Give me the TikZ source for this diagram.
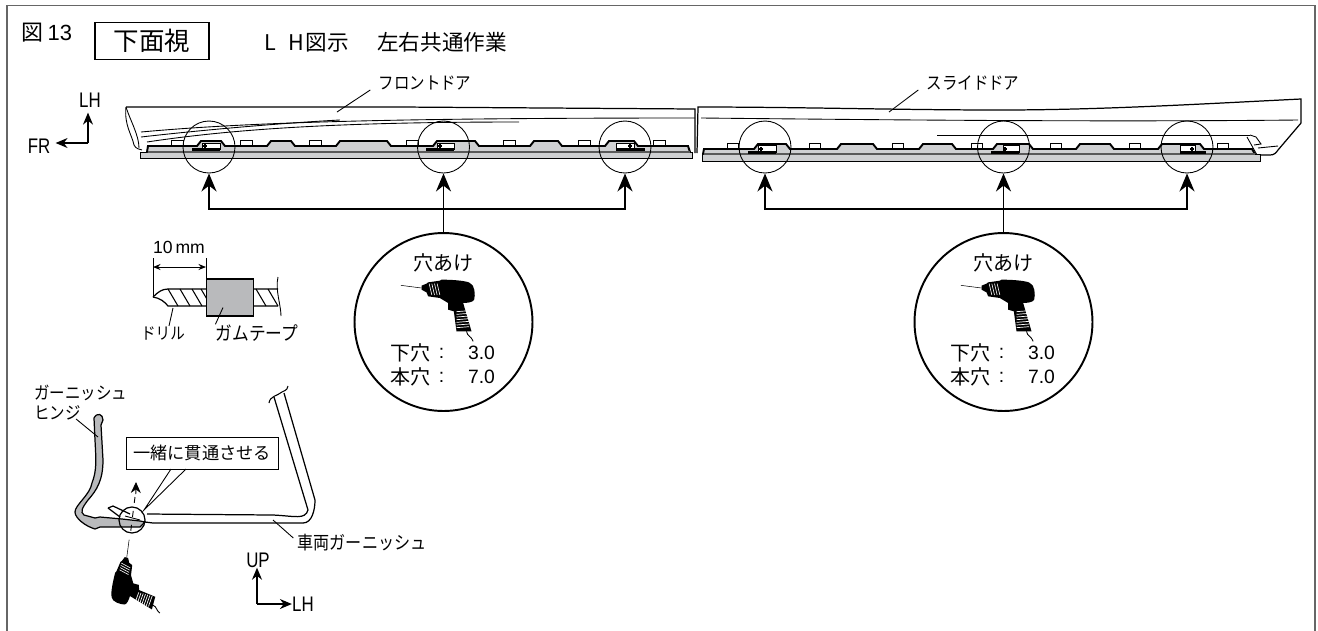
\documentclass[tikz,border=0pt]{standalone}
\usepackage{fontspec}
\setmainfont{Liberation Sans}
\newfontfamily\jp{Noto Sans CJK JP}
\newfontfamily\jpk[FakeStretch=0.88]{Noto Sans CJK JP}
\newfontfamily\narrow[FakeStretch=0.8]{Liberation Sans}
\usetikzlibrary{arrows.meta}
\definecolor{stripgray}{HTML}{CFD0D2}
\definecolor{tapegray}{HTML}{B9BABC}
\definecolor{framegray}{HTML}{666666}
\tikzset{
  lbl/.style={inner sep=0pt,font=\jpk\fontsize{10pt}{11pt}\selectfont},
  lblbig/.style={inner sep=0pt,font=\jp\fontsize{11.4pt}{13pt}\selectfont},
  lbllat/.style={inner sep=0pt,font=\fontsize{11pt}{13pt}\selectfont},
  lblaxis/.style={inner sep=0pt,font=\narrow\fontsize{12pt}{14pt}\selectfont},
  lens/.style={circle,draw,line width=0.5pt,minimum size=1.04cm,inner sep=0pt},
  bigcirc/.style={circle,draw,fill=white,line width=1.1pt,minimum size=3.56cm,inner sep=0pt},
  bigarrow/.style={line width=1.1pt,-{Stealth[length=0.36cm,width=0.3cm]}},
  bothbig/.style={line width=1.1pt,{Stealth[length=0.36cm,width=0.3cm]}-{Stealth[length=0.36cm,width=0.3cm]}},
  axisarrow/.style={line width=0.7pt,-{Stealth[length=0.24cm,width=0.2cm]}},
  profile/.style={fill=stripgray,draw,line width=1.1pt},
  strip/.style={fill=stripgray,draw,line width=0.4pt},
  thin line/.style={line width=0.5pt},
  tab/.style={fill=white,draw,line width=0.4pt},
  pics/drill/.style={code={
    \draw[line width=0.3pt] (-137,-53) -- (-75,-45);
    \fill (-75,-52) -- (-60,-58) -- (-55,-62) -- (-20,-67) -- (-15,-70) .. controls (30,-70) and (65,-65) .. (70,-60)
      .. controls (85,-55) and (87,-25) .. (83,-10) .. controls (80,-2) and (60,0) .. (50,0)
      -- (75,85) -- (30,85) -- (22,25) -- (5,20) -- (5,0) -- (-20,-15) -- (-55,-20) -- (-60,-32) -- (-75,-40) -- cycle;
    \foreach \x in {-52,-44,-36,-28} \draw[white,line width=0.35pt] (\x,-58) -- (\x+8,-24);
    \foreach \y in {26,34,42,50,58,66,74} \draw[white,line width=0.4pt] (30,\y) -- (68,\y-3);
    \draw[line width=0.5pt] (60,85) .. controls (62,100) and (75,100) .. (80,115);
  }}
}
\begin{document}
\begin{tikzpicture}[x=0.02cm,y=-0.02cm]
  \useasboundingbox (0,0) rectangle (1318,630);
  \draw[line width=0.8pt,framegray] (7,5.5) rectangle (1315,640);

  % heading
  \node at (47,33) [inner sep=0pt,font=\jp\fontsize{12.5pt}{14pt}\selectfont] (fig) {図\,\fontspec{Liberation Sans}13};
  \node at (152,41) [draw,line width=1pt,minimum width=2.28cm,minimum height=0.74cm,inner sep=0pt,font=\jp\fontsize{14.5pt}{16pt}\selectfont] (view) {下面視};
  \node at (264,42) [anchor=west,inner sep=0pt,font=\jp\fontsize{12.3pt}{14pt}\selectfont] (note) {L\hspace{7pt}H\hspace{1pt}図示\hspace{16pt}左右共通作業};

  % LH / FR axes
  \coordinate (ax1) at (88,143);
  \node at (90,100) [lblaxis] (lh1) {LH};
  \node at (39,146) [lblaxis] (fr1) {FR};
  \draw[axisarrow,shorten >=0.1cm] (ax1) -- (ax1 |- lh1.south);
  \draw[axisarrow,shorten >=0.1cm] (ax1) -- (ax1 -| fr1.east);

  % front door
  \draw[thin line] (126,107) .. controls (124,125) and (132,135) .. (134,145) .. controls (136,149) and (139,149) .. (142,150);
  \draw[line width=0.7pt] (126,107) -- (400,107) -- (695,109) -- (695,153);
  \draw[thin line] (141,132) .. controls (250,122) and (400,118) .. (695,118);
  \draw[thin line] (141,137) .. controls (220,128) and (300,122) .. (340,120);
  \draw[thin line] (147,142) .. controls (240,128) and (350,122) .. (519,122);
  \draw[thin line] (126,107) .. controls (130,120) and (139,135) .. (139,148);
  \node at (425,83) [lbl] (door1) {フロントドア};
  \coordinate (door1in) at (337,112);
  \draw[thin line] (door1.west) ++(-8,7) -- (door1in);
  \foreach \x in {171,240,309,406,503,578,653} \draw[tab] (\x,140) rectangle ++(12,5);
  \draw[strip] (140,152) rectangle (692,158);
  \draw[profile] (147,152) -- (148,146)
    \foreach \a/\b in {199/223,269/293,338/389,435/477,532/560,607/636} { -- (\a-2,146) -- (\a+2,141) -- (\b-2,141) -- (\b+2,146) }
    -- (688,146) -- (690,152);
  \draw[line width=1pt,gray!70!black] (148,152) -- (690,152);
  \foreach \l/\r/\a/\b/\p in {202/220/192/220/205,437/454/426/454/440,616/634/616/645/630} {
    \fill[white] (\l,143) rectangle (\r,149);
    \draw[line width=0.4pt] (\l,143) rectangle (\r,149);
    \draw[line width=1.3pt] (\a,149.5) -- (\b,149.5);
    \draw[line width=0.6pt] (\p-2,146) -- (\p+2,146) (\p,144) -- (\p,148);
  }
  \node at (209,147) [lens] (c1) {};
  \node at (443.5,147) [lens] (c2) {};
  \node at (625,147) [lens] (c3) {};

  % slide door
  \draw[line width=0.7pt] (1255,155) -- (1270,155) .. controls (1274,155) and (1276,153) .. (1278,150) -- (1301,123) -- (1301,99)
    .. controls (1200,104) and (1100,110) .. (1000,110) .. controls (900,110) and (800,107) .. (698,107) -- (697,153);
  \draw[thin line] (701,118) .. controls (900,120) and (1100,122) .. (1298,120);
  \draw[thin line] (937,135) -- (1250,135);
  \draw[thin line] (1247,137) -- (1257,155);
  \draw[thin line] (1250,135) -- (1256,137) -- (1261,144) -- (1254,145);
  \draw[thin line] (1258,148) -- (1278,146);
  \node at (973,83) [lbl] (door2) {スライドドア};
  \coordinate (door2in) at (889,112);
  \draw[thin line] (door2.west) ++(-8,7) -- (door2in);
  \foreach \x in {727,809,892,971,1050,1129,1217} \draw[tab] (\x,143) rectangle ++(11,5);
  \draw[strip] (702,154) rectangle (1260,161);
  \draw[profile] (703,154) -- (704,149)
    \foreach \a/\b in {756/788,839/875,921/954,995/1031,1078/1112,1160/1202} { -- (\a-2,149) -- (\a+2,144) -- (\b-2,144) -- (\b+2,149) }
    -- (1252,149) -- (1255,154);
  \draw[line width=1pt,gray!70!black] (704,154) -- (1255,154);
  \foreach \l/\r/\a/\b/\p in {758/776/748/776/761,1003/1019/991/1019/1005,1180/1195/1180/1206/1192} {
    \fill[white] (\l,145) rectangle (\r,152);
    \draw[line width=0.4pt] (\l,145) rectangle (\r,152);
    \draw[line width=1.3pt] (\a,152.5) -- (\b,152.5);
    \draw[line width=0.6pt] (\p-2,149) -- (\p+2,149) (\p,147) -- (\p,151);
  }
  \node at (765,147) [lens] (c4) {};
  \node at (1003.5,147) [lens] (c5) {};
  \node at (1187,147) [lens] (c6) {};

  % drilling circles
  \node at (443.5,322) [bigcirc] (big1) {};
  \node at (1003.5,322) [bigcirc] (big2) {};
  \draw[bigarrow] (big1.north) -- (c2.south);
  \draw[bigarrow] (big2.north) -- (c5.south);
  \draw[bothbig] (c1.south) -- ++(0,36) -| (c3.south);
  \draw[bothbig] (c4.south) -- ++(0,36) -| (c6.south);
  \foreach \n/\x in {1/443.5,2/1003.5} {
    \node at (\x,263) [lblbig] (title\n) {穴あけ};
    \pic at (\x+3,303) [scale=1/3] {drill};
    \node at (\x-33,353) [lblbig] (pilot\n) {下穴};
    \node at (\x-2,353) [lbllat] (pilotc\n) {:};
    \node at (\x+38,353) [lbllat] (pilotv\n) {3.0};
    \node at (\x-33,377) [lblbig] (main\n) {本穴};
    \node at (\x-2,377) [lbllat] (mainc\n) {:};
    \node at (\x+38,377) [lbllat] (mainv\n) {7.0};
  }

  % drill bit with tape
  \node at (179,247) [lbllat,font=\fontsize{10pt}{12pt}\selectfont] (mm) {10\,mm};
  \coordinate (bitl) at (153,258);
  \coordinate (bitr) at (206,258);
  \draw[thin line] (bitl) -- ++(0,39);
  \draw[thin line] (bitr) -- ++(0,25);
  \draw[line width=0.5pt,{Stealth[length=0.15cm,width=0.12cm]}-{Stealth[length=0.15cm,width=0.12cm]}] (bitl) ++(0,9) -- ++(53,0);
  \draw[line width=0.7pt] (153,297) .. controls (158,292) and (162,289) .. (168,289) -- (278,289);
  \draw[line width=0.7pt] (153,297) .. controls (160,298) and (165,302) .. (168,306) -- (278,306);
  \draw[thin line] (278,277) .. controls (275,290) and (281,305) .. (281,316);
  \foreach \x in {168,180,192,201,256,268} \draw[line width=0.6pt] (\x,289) -- (\x+10,306);
  \node at (230,297.5) [draw,fill=tapegray,line width=0.8pt,minimum width=0.93cm,minimum height=0.74cm,inner sep=0pt] (tape) {};
  \node at (163,333) [lbl,font=\jpk\fontsize{9.4pt}{10pt}\selectfont] (bitlbl) {ドリル};
  \node at (257,333) [lbl,font=\jpk\fontsize{10.8pt}{11pt}\selectfont] (tapelbl) {ガムテープ};
  \draw[thin line] (bitlbl.north) ++(6,0) -- (173,308);
  \draw[thin line] (tape.center) ++(-7,10) -- (tapelbl.north west);

  % section
  \draw[fill=tapegray,line width=0.7pt] (94,418) .. controls (97,412) and (103,414) .. (103,420) -- (101,425)
    -- (103,460) .. controls (103,480) and (97,490) .. (88,500) .. controls (82,508) and (80,512) .. (84,515)
    -- (95,518) -- (100,517) -- (122,519) -- (140,521) -- (145,522) -- (140,527) -- (100,527) -- (95,529)
    .. controls (85,526) and (75,518) .. (75,512) .. controls (75,505) and (90,495) .. (92,483) .. controls (97,470) and (96,460) .. (95,440) -- cycle;
  \draw[line width=0.7pt] (108,508) -- (113,506) -- (130,514);
  \draw[line width=0.7pt] (108,508) -- (120,517);
  \draw[line width=0.7pt] (147,514) -- (273,515) .. controls (295,516) and (305,520) .. (308,510) -- (274,397);
  \draw[line width=0.7pt] (153,523) -- (303,523) .. controls (312,523) and (315,510) .. (315,500) -- (284,393);
  \draw[line width=0.7pt] (145,522) -- (153,523);
  \draw[line width=0.6pt] (269,403) .. controls (270,396) and (277,396) .. (282,392) .. controls (287,390) and (288,388) .. (288,386);
  \node at (132,520) [lens,minimum size=0.52cm,line width=0.7pt] (c7) {};
  \draw[line width=0.5pt] (125,516) -- (140,520);
  \node at (34,393) [lbl,anchor=west] (hinge1) {ガーニッシュ};
  \node at (34,413) [lbl,anchor=west] (hinge2) {ヒンジ};
  \coordinate (hingein) at (98,437);
  \draw[thin line] (hinge2.east) ++(-5,6) -- (hingein);
  \node at (202,453) [draw,fill=white,line width=0.5pt,minimum width=3.04cm,minimum height=0.64cm,inner sep=0pt,font=\jp\fontsize{9.8pt}{11pt}\selectfont] (together) {一緒に貫通させる};
  \coordinate (tip) at (144,510);
  \draw[thin line] (171,469) -- (tip) -- (186,469);
  \node at (362,543) [lbl,font=\jpk\fontsize{10.4pt}{11pt}\selectfont] (garnish) {車両ガーニッシュ};
  \coordinate (garnin) at (273,520);
  \draw[thin line] (garnish.west) ++(-4,-5) -- (garnin);

  % lower drill and axis
  \coordinate (aim) at (136,482);
  \coordinate (aimend) at (130,537);
  \draw[line width=0.5pt,-{Stealth[length=0.22cm,width=0.2cm]}] (135.8,494) -- (aim);
  \draw[line width=0.5pt,dash pattern=on 0.12cm off 0.16cm] (135,497) -- (aimend);
  \pic at (133.7,582) [cm={0,-1,-1,0,(0,0)},rotate=15,scale=0.29] {drill};

  % UP / LH axes
  \coordinate (ax2) at (257,604);
  \node at (258,560) [lblaxis] (up2) {UP};
  \node at (303,604) [lblaxis] (lh2) {LH};
  \draw[axisarrow] (ax2) -- (ax2 |- up2.south);
  \draw[axisarrow] (ax2) -- (ax2 -| lh2.west);
\end{tikzpicture}
\end{document}
